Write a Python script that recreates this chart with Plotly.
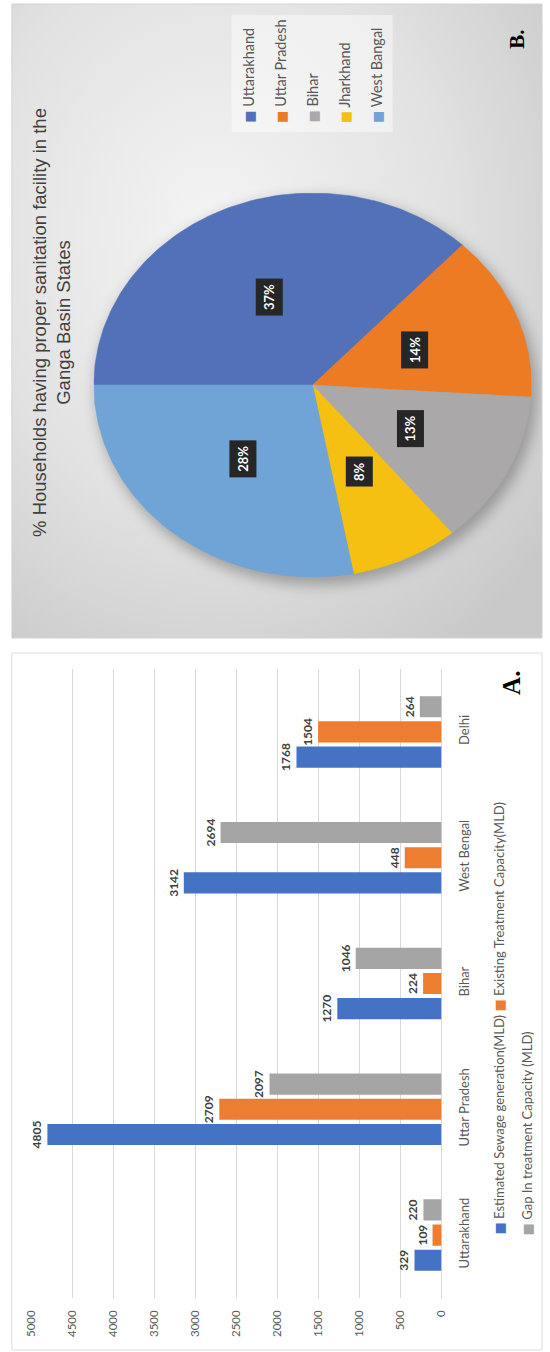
import base64
import numpy as np
import plotly.graph_objects as go

# ---- data -------------------------------------------------------------
states = ["Uttarakhand", "Uttar Pradesh", "Bihar", "West Bengal", "Delhi"]
sewage_generation = [329, 4805, 1270, 3142, 1768]
treatment_capacity = [109, 2709, 224, 448, 1504]
treatment_gap = [220, 2097, 1046, 2694, 264]
value_ticks = [0, 500, 1000, 1500, 2000, 2500, 3000, 3500, 4000, 4500, 5000]

bar_series = ["Estimated Sewage generation(MLD)",
              "Existing Treatment Capacity(MLD)",
              "Gap In treatment Capacity (MLD)"]

pie_states = ["Uttarakhand", "Uttar Pradesh", "Bihar", "Jharkhand", "West Bangal"]
pie_share = [37, 14, 13, 8, 28]

pie_title = ("% Households having proper sanitation facility in the<br>"
             "Ganga Basin States")

# ---- styling ----------------------------------------------------------
W, H = 550, 1352
BAR_COLORS = ["#4472C4", "#ED7D31", "#A5A5A5"]
PIE_COLORS = ["#5271B9", "#EC7B23", "#AAA8A8", "#F5C012", "#70A3D6"]
TXT = "#595959"
FONT = "Lato"
SWATCH = "font-family:DejaVu Sans;font-size:13px"


def px(x):
    return x / W


def py(y):
    return 1 - y / H


fig = go.Figure()

# ---- panel A: grouped bars, page turned on its side -------------------
for name, vals, col in zip(bar_series,
                           [sewage_generation, treatment_capacity, treatment_gap],
                           BAR_COLORS):
    fig.add_trace(go.Bar(
        name=name, y=states, x=vals, orientation="h",
        marker=dict(color=col, line=dict(width=0)),
        text=[f"<b>{v}</b>" for v in vals], textposition="outside",
        textangle=-90, constraintext="none", cliponaxis=False,
        textfont=dict(family=FONT, size=12, color="#404040"),
        showlegend=False, xaxis="x", yaxis="y",
    ))

# ---- panel B: pie drawn as elliptical sectors --------------------------
total = float(sum(pie_share))
start = 180.0
for name, share, col in zip(pie_states, pie_share, PIE_COLORS):
    sweep = 360.0 * share / total
    ang = np.radians(np.linspace(start, start - sweep, 120))
    xs = np.concatenate([[0.0], np.cos(ang), [0.0]])
    ys = np.concatenate([[0.0], np.sin(ang), [0.0]])
    fig.add_trace(go.Scatter(
        x=xs, y=ys, mode="lines", fill="toself", fillcolor=col,
        line=dict(color=col, width=0.5), name=name, showlegend=False,
        hoverinfo="name", xaxis="x2", yaxis="y2",
    ))
    mid = np.radians(start - sweep / 2)
    fig.add_annotation(
        x=0.5 * np.cos(mid), y=0.5 * np.sin(mid), xref="x2", yref="y2",
        text=f"<b>{share}%</b>", textangle=-90, showarrow=False,
        font=dict(family=FONT, size=13, color="white"),
        bgcolor="#262626", borderpad=5,
    )
    start -= sweep

# ---- panel backgrounds ------------------------------------------------
PB = dict(x0=5, y0=4, x1=548, y1=638)          # pie panel box (px)
PIE = dict(x0=89, x1=537, y0=193, y1=577)      # pie ellipse box (px)
pw, ph = PB["x1"] - PB["x0"], PB["y1"] - PB["y0"]
ecx = (PIE["x0"] + PIE["x1"]) / 2 - PB["x0"]
ecy = (PIE["y0"] + PIE["y1"]) / 2 - PB["y0"]
erx = (PIE["x1"] - PIE["x0"]) / 2
ery = (PIE["y1"] - PIE["y0"]) / 2
svg = f"""<svg xmlns='http://www.w3.org/2000/svg' width='{pw}' height='{ph}' viewBox='0 0 {pw} {ph}'>
<defs>
<radialGradient id='g' cx='0.38' cy='0.36' r='0.8'>
<stop offset='0' stop-color='#f4f4f4'/><stop offset='0.55' stop-color='#e2e2e2'/><stop offset='1' stop-color='#c9c9c9'/>
</radialGradient>
<filter id='b' x='-20%' y='-20%' width='140%' height='140%'><feGaussianBlur stdDeviation='7'/></filter>
</defs>
<rect width='{pw}' height='{ph}' fill='url(#g)'/>
<ellipse cx='{ecx + 4}' cy='{ecy + 6}' rx='{erx + 2}' ry='{ery + 2}' fill='#000' fill-opacity='0.28' filter='url(#b)'/>
</svg>"""
fig.add_layout_image(
    source="data:image/svg+xml;base64," + base64.b64encode(svg.encode()).decode(),
    xref="paper", yref="paper", x=px(PB["x0"]), y=py(PB["y0"]),
    sizex=pw / W, sizey=ph / H, sizing="stretch", layer="below",
    xanchor="left", yanchor="top",
)
fig.add_shape(type="rect", xref="paper", yref="paper",
              x0=px(PB["x0"]), x1=px(PB["x1"]), y0=py(PB["y1"]), y1=py(PB["y0"]),
              line=dict(color="#d2d2d2", width=1), fillcolor="rgba(0,0,0,0)")
fig.add_shape(type="rect", xref="paper", yref="paper", layer="below",
              x0=px(5), x1=px(548), y0=py(1350), y1=py(653),
              line=dict(color="#dcdcdc", width=1), fillcolor="white")

# pie legend box and entries
fig.add_shape(type="rect", xref="paper", yref="paper",
              x0=px(230), x1=px(395), y0=py(132), y1=py(15),
              line=dict(width=0), fillcolor="rgba(255,255,255,0.45)")
for i, (name, col) in enumerate(zip(pie_states, PIE_COLORS)):
    fig.add_annotation(
        x=px(247 + 33 * i), y=py(125), xref="paper", yref="paper",
        xanchor="center", yanchor="bottom", textangle=-90, showarrow=False,
        text=f"<span style='color:{col};{SWATCH}'>■</span> {name}",
        font=dict(family=FONT, size=14.5, color=TXT),
    )

# bar legend (two rows)
fig.add_annotation(
    x=px(503), y=py(1237), xref="paper", yref="paper",
    xanchor="center", yanchor="bottom", textangle=-90, showarrow=False,
    text=(f"<span style='color:{BAR_COLORS[0]};{SWATCH}'>■</span> {bar_series[0]} "
          f"<span style='color:{BAR_COLORS[1]};{SWATCH}'>■</span> {bar_series[1]}"),
    font=dict(family=FONT, size=13, color=TXT),
)
fig.add_annotation(
    x=px(533), y=py(1237), xref="paper", yref="paper",
    xanchor="center", yanchor="bottom", textangle=-90, showarrow=False,
    text=f"<span style='color:{BAR_COLORS[2]};{SWATCH}'>■</span> {bar_series[2]}",
    font=dict(family=FONT, size=13, color=TXT),
)

# pie title
fig.add_annotation(
    x=px(46), y=py(322), xref="paper", yref="paper",
    xanchor="center", yanchor="middle", textangle=-90, showarrow=False,
    text=pie_title, font=dict(family="Liberation Sans", size=18.5, color="#404040"),
)

# panel letters
fig.add_annotation(x=px(532), y=py(683), xref="paper", yref="paper",
                   text="<b>A.</b>", textangle=-90, showarrow=False,
                   font=dict(family="Liberation Serif", size=25, color="black"))
fig.add_annotation(x=px(537), y=py(28), xref="paper", yref="paper",
                   text="<b>B.</b>", textangle=-90, showarrow=False,
                   font=dict(family="Liberation Serif", size=21, color="black"))

fig.update_layout(
    width=W, height=H, margin=dict(l=0, r=0, t=0, b=0),
    paper_bgcolor="white", plot_bgcolor="rgba(0,0,0,0)",
    barmode="group", bargap=0.4, bargroupgap=0.16,
    xaxis=dict(domain=[px(25), px(445)], range=[5000, 0], tickvals=value_ticks,
               showgrid=True, gridcolor="#d9d9d9", gridwidth=1,
               zeroline=True, zerolinecolor="#d9d9d9", zerolinewidth=1,
               showline=False, ticks="", tickangle=-90, ticklabelstandoff=9,
               tickfont=dict(family=FONT, size=11.5, color=TXT), fixedrange=True),
    yaxis=dict(domain=[py(1298), py(669)], type="category",
               categoryorder="array", categoryarray=states,
               side="right", anchor="x", showgrid=False, showline=False,
               zeroline=False, ticks="", tickangle=-90, ticklabelstandoff=14,
               tickfont=dict(family=FONT, size=13, color=TXT), fixedrange=True),
    xaxis2=dict(domain=[px(PIE["x0"]), px(PIE["x1"])], range=[-1, 1],
                visible=False, fixedrange=True, anchor="y2"),
    yaxis2=dict(domain=[py(PIE["y1"]), py(PIE["y0"])], range=[-1, 1],
                visible=False, fixedrange=True, anchor="x2"),
    showlegend=False,
)

fig.write_html("out.html")
